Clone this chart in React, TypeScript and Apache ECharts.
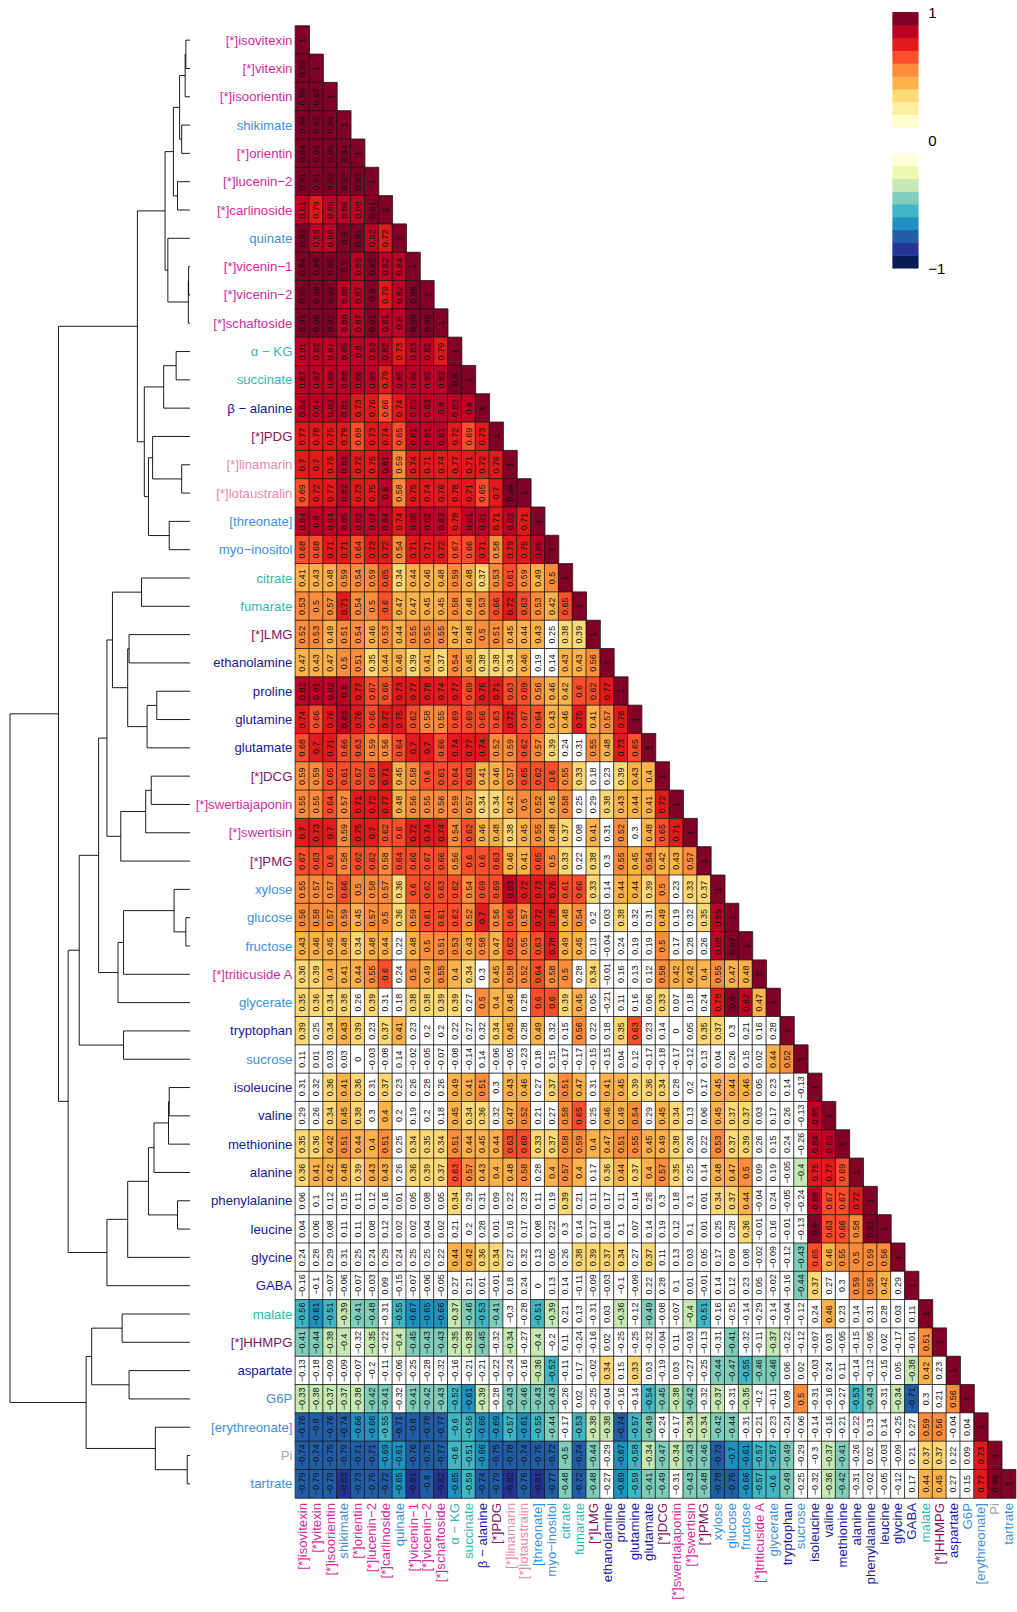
import React, { useEffect, useRef } from "react";
import * as echarts from "echarts";

const varNames: string[] = [
  "[*]isovitexin", "[*]vitexin", "[*]isoorientin", "shikimate", "[*]orientin", "[*]lucenin−2",
  "[*]carlinoside", "quinate", "[*]vicenin−1", "[*]vicenin−2", "[*]schaftoside", "α − KG",
  "succinate", "β − alanine", "[*]PDG", "[*]linamarin", "[*]lotaustralin", "[threonate]",
  "myo−inositol", "citrate", "fumarate", "[*]LMG", "ethanolamine", "proline", "glutamine",
  "glutamate", "[*]DCG", "[*]swertiajaponin", "[*]swertisin", "[*]PMG", "xylose", "glucose",
  "fructose", "[*]triticuside A", "glycerate", "tryptophan", "sucrose", "isoleucine", "valine",
  "methionine", "alanine", "phenylalanine", "leucine", "glycine", "GABA", "malate", "[*]HHMPG",
  "aspartate", "G6P", "[erythreonate]", "Pi", "tartrate",
];

// class of each variable (label colour group)
const varClass: string[] = [
  "flav", "flav", "flav", "sugar", "flav", "flav", "flav", "sugar", "flav", "flav", "flav", "tca",
  "tca", "amino", "glyc", "cyan", "cyan", "sugar", "sugar", "tca", "tca", "glyc", "amino", "amino",
  "amino", "amino", "glyc", "flav", "flav", "glyc", "sugar", "sugar", "sugar", "flav", "sugar",
  "amino", "sugar", "amino", "amino", "amino", "amino", "amino", "amino", "amino", "amino", "tca",
  "glyc", "amino", "sugar", "sugar", "ion", "sugar",
];
const classColors: Record<string, string> = {
  flav: "#d42a9c", sugar: "#3e8fd8", tca: "#35b6b0", amino: "#17179a", glyc: "#7e1464",
  cyan: "#e58aa9", ion: "#a8a8a8",
};

// lower-triangular correlation matrix, row i holds columns 0..i
const corrLower: number[][] = [
  [1],
  [0.97, 1],
  [0.96, 0.97, 1],
  [0.94, 0.92, 0.94, 1],
  [0.94, 0.91, 0.95, 0.94, 1],
  [0.91, 0.91, 0.93, 0.92, 0.92, 1],
  [0.81, 0.79, 0.86, 0.86, 0.88, 0.91, 1],
  [0.92, 0.89, 0.88, 0.9, 0.91, 0.82, 0.72, 1],
  [0.94, 0.98, 0.95, 0.9, 0.89, 0.92, 0.82, 0.84, 1],
  [0.93, 0.98, 0.94, 0.88, 0.87, 0.9, 0.79, 0.82, 0.99, 1],
  [0.91, 0.96, 0.92, 0.88, 0.87, 0.91, 0.81, 0.8, 0.99, 0.99, 1],
  [0.81, 0.82, 0.87, 0.85, 0.8, 0.83, 0.82, 0.73, 0.83, 0.82, 0.79, 1],
  [0.87, 0.87, 0.88, 0.88, 0.86, 0.85, 0.79, 0.85, 0.86, 0.85, 0.82, 0.9, 1],
  [0.84, 0.84, 0.83, 0.81, 0.73, 0.76, 0.66, 0.74, 0.85, 0.83, 0.8, 0.82, 0.8, 1],
  [0.77, 0.78, 0.75, 0.79, 0.69, 0.73, 0.74, 0.65, 0.81, 0.81, 0.81, 0.72, 0.69, 0.73, 1],
  [0.7, 0.7, 0.75, 0.83, 0.72, 0.75, 0.81, 0.59, 0.74, 0.71, 0.74, 0.77, 0.71, 0.72, 0.76, 1],
  [0.69, 0.72, 0.77, 0.82, 0.73, 0.75, 0.8, 0.58, 0.75, 0.74, 0.76, 0.78, 0.71, 0.65, 0.7, 0.94, 1],
  [0.84, 0.8, 0.84, 0.85, 0.82, 0.87, 0.84, 0.74, 0.85, 0.82, 0.83, 0.78, 0.81, 0.81, 0.71, 0.82, 0.71, 1],
  [0.68, 0.68, 0.71, 0.71, 0.64, 0.73, 0.72, 0.54, 0.71, 0.71, 0.72, 0.67, 0.66, 0.71, 0.58, 0.79, 0.75, 0.85, 1],
  [0.41, 0.43, 0.48, 0.59, 0.54, 0.59, 0.65, 0.34, 0.44, 0.46, 0.48, 0.59, 0.48, 0.37, 0.53, 0.61, 0.59, 0.49, 0.5, 1],
  [0.53, 0.5, 0.57, 0.71, 0.54, 0.5, 0.6, 0.47, 0.47, 0.45, 0.45, 0.58, 0.46, 0.53, 0.66, 0.72, 0.63, 0.53, 0.42, 0.65, 1],
  [0.52, 0.53, 0.49, 0.51, 0.54, 0.46, 0.53, 0.44, 0.55, 0.55, 0.55, 0.47, 0.48, 0.5, 0.51, 0.45, 0.44, 0.43, 0.25, 0.38, 0.39, 1],
  [0.47, 0.43, 0.47, 0.5, 0.51, 0.35, 0.44, 0.46, 0.39, 0.41, 0.37, 0.54, 0.45, 0.38, 0.38, 0.34, 0.46, 0.19, 0.14, 0.43, 0.43, 0.56, 1],
  [0.82, 0.81, 0.82, 0.8, 0.77, 0.67, 0.66, 0.73, 0.77, 0.78, 0.74, 0.77, 0.69, 0.76, 0.71, 0.63, 0.69, 0.56, 0.46, 0.42, 0.6, 0.62, 0.77, 1],
  [0.74, 0.66, 0.76, 0.83, 0.76, 0.66, 0.72, 0.75, 0.62, 0.58, 0.55, 0.69, 0.69, 0.66, 0.63, 0.72, 0.67, 0.64, 0.43, 0.46, 0.75, 0.41, 0.57, 0.76, 1],
  [0.68, 0.7, 0.71, 0.66, 0.63, 0.59, 0.56, 0.64, 0.7, 0.7, 0.66, 0.74, 0.77, 0.74, 0.52, 0.59, 0.62, 0.57, 0.39, 0.24, 0.31, 0.55, 0.48, 0.73, 0.65, 1],
  [0.59, 0.59, 0.65, 0.61, 0.67, 0.69, 0.71, 0.45, 0.58, 0.6, 0.61, 0.64, 0.63, 0.41, 0.46, 0.57, 0.65, 0.62, 0.6, 0.55, 0.33, 0.18, 0.23, 0.39, 0.43, 0.4, 1],
  [0.55, 0.55, 0.64, 0.57, 0.71, 0.72, 0.77, 0.48, 0.56, 0.55, 0.56, 0.59, 0.57, 0.34, 0.34, 0.42, 0.5, 0.52, 0.45, 0.58, 0.25, 0.29, 0.38, 0.43, 0.44, 0.41, 0.72, 1],
  [0.7, 0.73, 0.7, 0.59, 0.75, 0.7, 0.62, 0.6, 0.72, 0.74, 0.74, 0.54, 0.62, 0.46, 0.48, 0.38, 0.45, 0.55, 0.48, 0.37, 0.08, 0.41, 0.31, 0.52, 0.3, 0.48, 0.65, 0.71, 1],
  [0.67, 0.63, 0.6, 0.58, 0.62, 0.62, 0.58, 0.64, 0.66, 0.67, 0.66, 0.56, 0.6, 0.6, 0.63, 0.46, 0.41, 0.65, 0.5, 0.33, 0.22, 0.38, 0.3, 0.55, 0.45, 0.54, 0.42, 0.43, 0.57, 1],
  [0.55, 0.57, 0.57, 0.66, 0.5, 0.58, 0.57, 0.36, 0.6, 0.62, 0.63, 0.62, 0.54, 0.69, 0.69, 0.83, 0.72, 0.73, 0.76, 0.61, 0.66, 0.33, 0.14, 0.44, 0.44, 0.39, 0.5, 0.23, 0.33, 0.37, 1],
  [0.56, 0.58, 0.57, 0.59, 0.45, 0.57, 0.5, 0.36, 0.59, 0.61, 0.61, 0.62, 0.52, 0.7, 0.56, 0.66, 0.57, 0.72, 0.78, 0.48, 0.54, 0.2, 0.03, 0.38, 0.32, 0.31, 0.49, 0.19, 0.32, 0.35, 0.89, 1],
  [0.43, 0.46, 0.45, 0.48, 0.34, 0.48, 0.44, 0.22, 0.48, 0.5, 0.51, 0.53, 0.43, 0.58, 0.47, 0.62, 0.55, 0.63, 0.78, 0.49, 0.45, 0.13, -0.04, 0.24, 0.19, 0.19, 0.5, 0.17, 0.28, 0.26, 0.88, 0.97, 1],
  [0.36, 0.39, 0.4, 0.41, 0.44, 0.55, 0.6, 0.24, 0.5, 0.49, 0.55, 0.4, 0.34, 0.3, 0.45, 0.58, 0.52, 0.64, 0.58, 0.5, 0.28, 0.34, -0.01, 0.16, 0.13, 0.12, 0.58, 0.42, 0.42, 0.4, 0.55, 0.47, 0.48, 1],
  [0.35, 0.36, 0.34, 0.38, 0.26, 0.39, 0.31, 0.18, 0.38, 0.38, 0.39, 0.39, 0.27, 0.5, 0.4, 0.46, 0.28, 0.6, 0.6, 0.39, 0.45, 0.05, -0.21, 0.11, 0.16, 0.06, 0.33, 0.07, 0.18, 0.24, 0.78, 0.9, 0.87, 0.47, 1],
  [0.39, 0.25, 0.34, 0.43, 0.39, 0.23, 0.37, 0.41, 0.23, 0.2, 0.2, 0.22, 0.27, 0.32, 0.34, 0.45, 0.28, 0.49, 0.32, 0.15, 0.56, 0.22, 0.18, 0.35, 0.63, 0.23, 0.14, 0, 0.05, 0.35, 0.37, 0.3, 0.21, 0.16, 0.28, 1],
  [0.11, 0.01, 0.03, 0.03, 0, -0.03, -0.08, 0.14, -0.02, -0.05, -0.07, -0.08, -0.14, 0.14, -0.06, -0.05, -0.23, 0.18, 0.15, -0.17, -0.17, -0.15, -0.15, 0.04, 0.12, -0.17, -0.18, -0.17, -0.12, 0.13, 0.04, 0.26, 0.15, 0.02, 0.44, 0.52, 1],
  [0.31, 0.32, 0.36, 0.41, 0.36, 0.31, 0.37, 0.23, 0.26, 0.28, 0.26, 0.49, 0.41, 0.51, 0.3, 0.43, 0.46, 0.27, 0.37, 0.51, 0.47, 0.31, 0.41, 0.45, 0.39, 0.36, 0.34, 0.28, 0.2, 0.17, 0.45, 0.44, 0.46, 0.05, 0.23, 0.14, -0.13, 1],
  [0.29, 0.26, 0.34, 0.45, 0.38, 0.3, 0.4, 0.2, 0.19, 0.2, 0.18, 0.45, 0.34, 0.36, 0.32, 0.47, 0.52, 0.21, 0.27, 0.58, 0.65, 0.25, 0.46, 0.49, 0.54, 0.29, 0.45, 0.34, 0.13, 0.06, 0.45, 0.37, 0.37, 0.03, 0.17, 0.26, -0.13, 0.85, 1],
  [0.35, 0.36, 0.42, 0.51, 0.44, 0.4, 0.51, 0.25, 0.34, 0.35, 0.34, 0.51, 0.44, 0.45, 0.44, 0.63, 0.68, 0.33, 0.37, 0.58, 0.59, 0.4, 0.47, 0.51, 0.55, 0.45, 0.49, 0.38, 0.26, 0.22, 0.53, 0.37, 0.39, 0.26, 0.15, 0.24, -0.26, 0.84, 0.85, 1],
  [0.36, 0.41, 0.42, 0.48, 0.39, 0.43, 0.43, 0.26, 0.36, 0.39, 0.37, 0.63, 0.57, 0.43, 0.4, 0.48, 0.58, 0.28, 0.4, 0.57, 0.4, 0.17, 0.36, 0.44, 0.37, 0.4, 0.57, 0.35, 0.25, 0.14, 0.48, 0.47, 0.5, 0.09, 0.19, -0.05, -0.4, 0.75, 0.77, 0.69, 1],
  [0.06, 0.1, 0.12, 0.15, 0.11, 0.12, 0.16, 0.01, 0.05, 0.08, 0.05, 0.34, 0.29, 0.31, 0.09, 0.22, 0.23, 0.11, 0.19, 0.39, 0.21, 0.11, 0.17, 0.11, 0.14, 0.26, 0.3, 0.18, 0.1, 0.01, 0.34, 0.37, 0.44, -0.04, 0.24, -0.05, -0.24, 0.88, 0.67, 0.67, 0.72, 1],
  [0.04, 0.06, 0.08, 0.11, 0.11, 0.08, 0.12, 0.02, 0.02, 0.04, 0.02, 0.21, 0.2, 0.28, 0.01, 0.16, 0.17, 0.08, 0.22, 0.3, 0.14, 0.17, 0.16, 0.1, 0.07, 0.14, 0.19, 0.12, 0.1, 0.01, 0.25, 0.28, 0.36, -0.01, 0.16, -0.01, -0.13, 0.9, 0.63, 0.66, 0.58, 0.91, 1],
  [0.24, 0.28, 0.29, 0.31, 0.25, 0.24, 0.29, 0.24, 0.25, 0.25, 0.22, 0.44, 0.42, 0.36, 0.34, 0.27, 0.32, 0.13, 0.05, 0.26, 0.38, 0.39, 0.37, 0.34, 0.27, 0.37, 0.11, 0.13, 0.03, 0.05, 0.17, 0.09, 0.08, -0.02, -0.09, -0.12, -0.43, 0.65, 0.46, 0.55, 0.5, 0.59, 0.56, 1],
  [-0.16, -0.1, -0.07, -0.06, -0.07, -0.03, 0.09, -0.15, -0.07, -0.06, -0.05, 0.27, 0.21, 0.01, -0.01, 0.18, 0.24, 0, 0.13, 0.14, -0.11, -0.09, -0.03, -0.1, -0.09, 0.22, 0.28, 0.1, 0.01, -0.01, 0.14, 0.12, 0.23, 0.05, -0.02, -0.16, -0.44, 0.37, 0.27, 0.3, 0.59, 0.56, 0.42, 0.29, 1],
  [-0.56, -0.61, -0.51, -0.39, -0.41, -0.48, -0.31, -0.55, -0.67, -0.65, -0.66, -0.37, -0.46, -0.53, -0.41, -0.3, -0.28, -0.51, -0.39, 0.21, 0.13, -0.31, 0.03, -0.36, -0.12, -0.49, -0.08, -0.07, -0.4, -0.51, -0.16, -0.25, -0.14, -0.29, -0.14, -0.04, -0.12, 0.24, 0.46, 0.23, 0.14, 0.31, 0.28, 0.03, 0.11, 1],
  [-0.41, -0.44, -0.38, -0.4, -0.32, -0.35, -0.22, -0.4, -0.45, -0.43, -0.43, -0.35, -0.38, -0.45, -0.32, -0.34, -0.27, -0.4, -0.2, 0.11, -0.24, -0.16, 0.02, -0.25, -0.25, -0.32, -0.04, 0.11, -0.03, -0.13, -0.31, -0.41, -0.32, -0.11, -0.37, -0.22, -0.12, -0.07, 0.03, -0.05, -0.15, -0.05, 0.02, -0.17, -0.01, 0.51, 1],
  [-0.13, -0.18, -0.09, -0.09, -0.07, -0.2, -0.11, -0.06, -0.25, -0.28, -0.32, -0.16, -0.21, -0.21, -0.22, -0.24, -0.16, -0.36, -0.52, -0.11, 0.17, -0.02, 0.34, 0.15, 0.33, 0.03, -0.19, 0.03, -0.27, -0.25, -0.44, -0.47, -0.55, -0.46, -0.46, 0.06, 0.02, -0.03, 0.24, 0.11, -0.14, -0.12, -0.15, 0.05, -0.38, 0.42, 0.23, 1],
  [-0.33, -0.38, -0.37, -0.37, -0.38, -0.42, -0.41, -0.32, -0.41, -0.42, -0.43, -0.52, -0.61, -0.39, -0.28, -0.43, -0.46, -0.43, -0.43, -0.26, 0.02, -0.25, -0.04, -0.16, -0.14, -0.54, -0.45, -0.38, -0.42, -0.32, -0.37, -0.31, -0.35, -0.2, -0.11, 0.09, 0.5, -0.31, -0.16, -0.27, -0.53, -0.43, -0.31, -0.34, -0.71, 0.3, 0.21, 0.56, 1],
  [-0.76, -0.8, -0.76, -0.74, -0.66, -0.66, -0.55, -0.71, -0.8, -0.78, -0.77, -0.6, -0.56, -0.66, -0.69, -0.57, -0.61, -0.55, -0.44, -0.17, -0.53, -0.38, -0.38, -0.74, -0.57, -0.49, -0.24, -0.17, -0.34, -0.34, -0.42, -0.44, -0.31, -0.21, -0.23, -0.24, -0.06, -0.14, -0.16, -0.21, -0.22, 0.13, 0.14, -0.25, 0.27, 0.59, 0.56, -0.04, 0.04, 1],
  [-0.74, -0.74, -0.75, -0.79, -0.71, -0.71, -0.69, -0.61, -0.76, -0.75, -0.77, -0.6, -0.51, -0.66, -0.75, -0.78, -0.74, -0.75, -0.72, -0.5, -0.74, -0.44, -0.29, -0.67, -0.58, -0.34, -0.47, -0.34, -0.43, -0.46, -0.73, -0.7, -0.61, -0.57, -0.57, -0.49, -0.29, -0.3, -0.37, -0.41, -0.26, 0.02, -0.03, -0.09, 0.21, 0.37, 0.37, 0.22, 0.09, 0.73, 1],
  [-0.79, -0.79, -0.79, -0.83, -0.73, -0.75, -0.72, -0.65, -0.81, -0.8, -0.82, -0.65, -0.59, -0.74, -0.79, -0.82, -0.76, -0.81, -0.77, -0.48, -0.72, -0.48, -0.27, -0.69, -0.59, -0.41, -0.49, -0.31, -0.43, -0.48, -0.78, -0.75, -0.66, -0.57, -0.6, -0.49, -0.25, -0.32, -0.36, -0.42, -0.31, -0.02, -0.05, -0.12, 0.17, 0.44, 0.45, 0.27, 0.15, 0.77, 0.98, 1],
];

// 20 colour bins of width 0.1 from -1 to 1
const binColors: string[] = [
  "#081d58", "#253494", "#225ea8", "#1d91c0", "#41b6c4", "#7fcdbb", "#c7e9b4", "#edf8b1", "#ffffd9", "#ffffff",
  "#ffffff", "#ffffcc", "#ffeda0", "#fed976", "#feb24c", "#fd8d3c", "#fc4e2a", "#e31a1c", "#bd0026", "#800026",
];
const legendTicks: number[] = [-1, 0, 1];
const sigThreshold = 0.325;

// dendrogram merges (R hclust convention: negative = leaf, positive = earlier merge), merge height
const dendroMerges: [number, number, number][] = [
  [-1, -2, 0.03], [1, -3, 0.035], [-4, -5, 0.06], [2, 3, 0.075], [-6, -7, 0.09], [4, 5, 0.12],
  [-9, -10, 0.01], [7, -11, 0.012], [-8, 8, 0.16], [6, 9, 0.18],
  [-12, -13, 0.1], [11, -14, 0.19], [-16, -17, 0.06], [-15, 13, 0.27], [-18, -19, 0.15], [14, 15, 0.3],
  [12, 16, 0.33], [10, 17, 0.38],
  [-20, -21, 0.35], [-22, -23, 0.44], [-24, -25, 0.24], [21, -26, 0.31], [20, 22, 0.45], [19, 23, 0.56],
  [-27, -28, 0.28], [25, -29, 0.32], [26, -30, 0.5], [24, 27, 0.6],
  [-32, -33, 0.03], [-31, 29, 0.115], [30, -34, 0.48], [31, -35, 0.52], [28, 32, 0.66],
  [-36, -37, 0.48], [33, 34, 0.8],
  [-38, -39, 0.15], [36, -40, 0.155], [37, -41, 0.26], [-42, -43, 0.09], [38, 39, 0.3], [40, -44, 0.45],
  [41, -45, 0.6],
  [35, 42, 0.88], [18, 43, 0.95],
  [-46, -47, 0.49], [-48, -49, 0.44], [45, 46, 0.71], [-51, -52, 0.02], [-50, 48, 0.25], [47, 49, 0.75],
  [44, 50, 1.3],
];
const dendroMax = 1.3;

function binIndex(v: number): number {
  const m = Math.floor(Math.round((v + 1) * 100) / 10);
  return Math.max(0, Math.min(19, m));
}
function cellIndex(v: number): number {
  return Math.abs(v) < sigThreshold ? 20 : binIndex(v);
}
function fmt(v: number): string {
  return v < 0 ? "−" + String(Math.abs(v)) : String(v);
}

const FONT = "'Liberation Sans', Arial, Helvetica, sans-serif";

export default function App() {
  const ref = useRef<HTMLDivElement>(null);
  useEffect(() => {
    if (!ref.current) return;
    const chart = echarts.init(ref.current, undefined, { renderer: "svg" });
    const n = varNames.length;

    const cells: number[][] = [];
    corrLower.forEach((row, i) => {
      row.forEach((v, j) => {
        cells.push([j, i, v, cellIndex(v)]);
      });
    });

    // dendrogram
    const pos: { y: number; h: number }[] = [];
    const getNode = (id: number) => (id < 0 ? { y: -id - 1, h: 0 } : pos[id - 1]);
    const dLines: any[] = [];
    dendroMerges.forEach(([a, b, h]) => {
      const na = getNode(a);
      const nb = getNode(b);
      dLines.push({ coords: [[na.h, na.y], [h, na.y], [h, nb.y], [nb.h, nb.y]] });
      pos.push({ y: (na.y + nb.y) / 2, h });
    });

    // legend bins
    const legendBins: number[][] = binColors.map((_, k) => [0, k, k]);

    const pieces = binColors.map((c, k) => ({ value: k, color: c }));
    pieces.push({ value: 20, color: "#ffffff" });

    const labelColor = (_v: any, idx: number) => classColors[varClass[idx]];

    chart.setOption({
      animation: false,
      backgroundColor: "#ffffff",
      textStyle: { fontFamily: FONT },
      visualMap: [
        { type: "piecewise", show: false, dimension: 3, seriesIndex: 0, pieces },
        { type: "piecewise", show: false, dimension: 2, seriesIndex: 2, pieces },
      ],
      grid: [
        { left: 295.4, top: 26, width: 720.2, height: 1472, containLabel: false },
        { left: 10, top: 26, width: 180, height: 1472, containLabel: false },
        { left: 892.6, top: 12.3, width: 25.7, height: 256, containLabel: false },
      ],
      xAxis: [
        {
          type: "category", gridIndex: 0, data: varNames, position: "bottom",
          axisLine: { show: false }, axisTick: { show: false }, splitLine: { show: false },
          axisLabel: { rotate: 90, fontSize: 13.2, margin: 5, color: labelColor, fontFamily: FONT, interval: 0 },
        },
        { type: "value", gridIndex: 1, min: 0, max: dendroMax, inverse: true, show: false },
        { type: "category", gridIndex: 2, data: ["c"], show: false },
      ],
      yAxis: [
        {
          type: "category", gridIndex: 0, data: varNames, inverse: true,
          axisLine: { show: false }, axisTick: { show: false }, splitLine: { show: false },
          axisLabel: { fontSize: 13.2, margin: 3, color: labelColor, fontFamily: FONT, interval: 0 },
        },
        { type: "value", gridIndex: 1, min: -0.5, max: n - 0.5, inverse: true, show: false },
        { type: "category", gridIndex: 2, data: binColors.map((_, k) => String(k)), show: false },
        {
          type: "value", gridIndex: 2, min: -1, max: 1, interval: 1, position: "right",
          axisLine: { show: false }, axisTick: { show: false }, splitLine: { show: false },
          axisLabel: {
            fontSize: 15, margin: 10, color: "#000", fontFamily: FONT,
            formatter: (v: number) => (legendTicks.includes(v) ? fmt(v) : ""),
          },
        },
      ],
      series: [
        {
          type: "heatmap", xAxisIndex: 0, yAxisIndex: 0, data: cells,
          itemStyle: { borderColor: "#1a1a1a", borderWidth: 0.8 },
          label: {
            show: true, rotate: 90, fontSize: 9, color: "#111", fontFamily: FONT,
            formatter: (p: any) => fmt(p.value[2]),
          },
          emphasis: { disabled: true },
        },
        {
          type: "lines", coordinateSystem: "cartesian2d", xAxisIndex: 1, yAxisIndex: 1,
          polyline: true, data: dLines, silent: true,
          lineStyle: { color: "#000", width: 0.9, opacity: 1 },
        },
        {
          type: "heatmap", xAxisIndex: 2, yAxisIndex: 2, data: legendBins,
          itemStyle: { borderWidth: 0 }, emphasis: { disabled: true }, silent: true,
        },
      ],
    });
    return () => chart.dispose();
  }, []);
  return (
    <div
      ref={ref}
      style={{ position: "absolute", left: 0, top: 0, width: 1017, height: 1612, background: "#fff" }}
    />
  );
}
